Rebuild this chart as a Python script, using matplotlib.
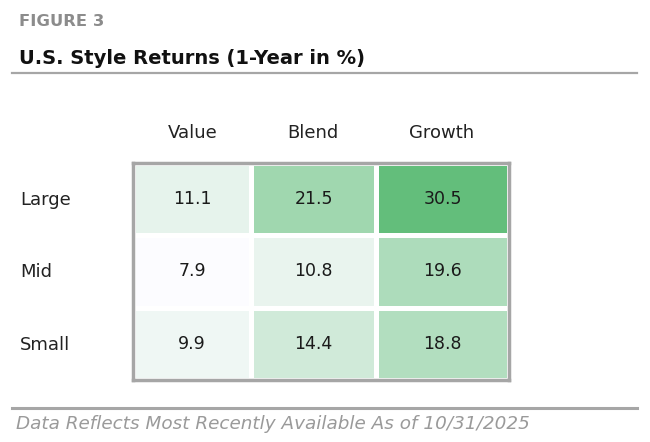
import numpy as np
import matplotlib.pyplot as plt
from matplotlib.colors import LinearSegmentedColormap
from matplotlib.lines import Line2D

# Data
sizes = ["Large", "Mid", "Small"]
styles = ["Value", "Blend", "Growth"]
returns = [
    [11.1, 21.5, 30.5],
    [7.9, 10.8, 19.6],
    [9.9, 14.4, 18.8],
]

W, H = 650, 442
fig = plt.figure(figsize=(W / 100, H / 100), dpi=100)
plt.rcParams['font.family'] = ['DejaVu Sans']

def fx(px):
    return px / W

def fy(py):
    return 1 - py / H

# heatmap axes in pixel box
left, right, top, bottom = 133, 509, 163, 380
ax = fig.add_axes([fx(left), fy(bottom), fx(right - left), (bottom - top) / H])

vals = np.array(returns)
cmap = LinearSegmentedColormap.from_list("xl", ["#fcfcff", "#63be7b"])
# column edges in pixels (cells are slightly uneven in the source)
xedges = (np.array([133, 251, 376, 509]) - left) / (right - left) * 3
ax.pcolormesh(xedges, np.arange(4), vals, cmap=cmap,
              vmin=vals.min(), vmax=vals.max(),
              edgecolor="white", linewidth=2.5)
ax.set_xlim(0, 3)
ax.set_ylim(3, 0)
for i in range(3):
    for j in range(3):
        xc = (xedges[j] + xedges[j + 1]) / 2
        ax.text(xc, i + 0.5, f"{vals[i, j]:.1f}", ha="center", va="center",
                fontsize=12.5, color="#1a1a1a")
ax.set_xticks([])
ax.set_yticks([])
for s in ax.spines.values():
    s.set_color("#a6a6a6")
    s.set_linewidth(2.5)

# column / row labels
col_x = [193, 313, 442]
for name, x in zip(styles, col_x):
    fig.text(fx(x), fy(133), name, ha="center", va="center", fontsize=13, color="#222222")
row_y = [200, 272, 345]
for name, y in zip(sizes, row_y):
    fig.text(fx(20), fy(y), name, ha="left", va="center", fontsize=13, color="#222222")

# header and footer
fig.text(fx(19), fy(22), "FIGURE 3", ha="left", va="center", fontsize=11.8,
         fontweight="bold", color="#8c8c8c")
fig.text(fx(19), fy(58), "U.S. Style Returns (1-Year in %)", ha="left", va="center",
         fontsize=14, fontweight="bold", color="#111111")
fig.add_artist(Line2D([fx(12), fx(637)], [fy(73), fy(73)], color="#a6a6a6", lw=1.6))
fig.add_artist(Line2D([fx(12), fx(637)], [fy(408), fy(408)], color="#a6a6a6", lw=2.2))
fig.text(fx(16), fy(424), "Data Reflects Most Recently Available As of 10/31/2025",
         ha="left", va="center", fontsize=13.2, style="italic", color="#9a9a9a")

fig.savefig("out.png", dpi=100)
